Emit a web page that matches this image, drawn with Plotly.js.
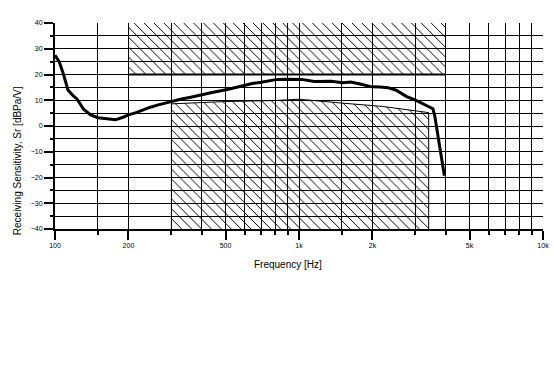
<!DOCTYPE html>
<html>
<head>
<meta charset="utf-8">
<script src="https://cdn.plot.ly/plotly-3.0.1.min.js"></script>
<style>html,body{margin:0;padding:0;background:#fff;}#chart{width:554px;height:384px;}</style>
</head>
<body>
<div id="chart"></div>
<script>
// Measured receiving sensitivity curve
const freqHz = [100,104,108,113,118,123,131,140,150,160,170,177,190,200,215,230,246,265,280,302,330,360,395,440,508,550,595,650,700,742,815,900,1025,1155,1250,1354,1511,1632,1800,1981,2150,2313,2502,2750,2973,3268,3539,3600,3628,3719,3850,3943];
const sensitivityDb = [27.5,25,20.5,14,12,10.5,6.5,4.3,3.2,2.9,2.8,2.4,3.4,4.3,5.2,6.3,7.3,8.2,8.8,9.7,10.5,11.2,11.9,13,14.2,15,15.8,16.6,17,17.5,18.1,18.2,18.1,17.3,17.4,17.4,16.8,17.1,16.2,15.2,15.1,14.9,13.9,11.5,10.2,8.3,6.7,4,2.1,-5.7,-13,-19.3];

// Upper limit mask (hatched above the 20 dB line)
const upperMaskFreq = [200, 4000];
const upperMaskLevel = [20, 20];
const axisTop = 40;
const axisBottom = -40;

// Lower limit mask (hatched below its upper boundary)
const lowerMaskFreq = [300, 500, 800, 1000, 1150, 1500, 2200, 3000, 3400];
const lowerMaskLevel = [8.6, 9.5, 9.9, 10.4, 9.8, 8.9, 7.6, 6.0, 5.2];

// Axis ticks
const xMajorTicks = [100, 200, 500, 1000, 2000, 5000, 10000];
const xMajorText = ["100", "200", "500", "1k", "2k", "5k", "10k"];
const xMinorTicks = [150, 300, 400, 600, 700, 800, 900, 1500, 3000, 4000, 6000, 7000, 8000, 9000];

// Titles
const xTitle = 'Frequency [Hz]';
const yTitle = 'Receiving Sensitivity, Sr [dBPa/V]';

const pattern = {shape: '\\', fgcolor: '#000', size: 7, solidity: 0.14, fillmode: 'replace'};

const upperX = [upperMaskFreq[0], upperMaskFreq[1], upperMaskFreq[1], upperMaskFreq[0]];
const upperY = [upperMaskLevel[0], upperMaskLevel[1], axisTop, axisTop];

const lowerX = [lowerMaskFreq[0]].concat(lowerMaskFreq, [lowerMaskFreq[lowerMaskFreq.length - 1]]);
const lowerY = [axisBottom].concat(lowerMaskLevel, [axisBottom]);

const traces = [
  {x: upperX, y: upperY, type: 'scatter', mode: 'lines', fill: 'toself',
   line: {width: 0, color: 'rgba(0,0,0,0)'}, fillpattern: pattern, hoverinfo: 'skip', showlegend: false},
  {x: upperMaskFreq, y: upperMaskLevel, type: 'scatter', mode: 'lines',
   line: {width: 2, color: '#000'}, showlegend: false},
  {x: lowerX, y: lowerY, type: 'scatter', mode: 'lines', fill: 'toself',
   line: {width: 1, color: '#000'}, fillpattern: pattern, hoverinfo: 'skip', showlegend: false},
  {x: freqHz, y: sensitivityDb, type: 'scatter', mode: 'lines',
   line: {width: 3, color: '#000'}, showlegend: false}
];

const fontFam = 'Liberation Sans, Arial, sans-serif';

const layout = {
  width: 554, height: 384,
  margin: {l: 55, r: 11, t: 23, b: 155},
  paper_bgcolor: '#fff', plot_bgcolor: '#fff',
  showlegend: false,
  font: {family: fontFam, color: '#000'},
  xaxis: {
    type: 'log', range: [2, 4],
    tickmode: 'array', tickvals: xMajorTicks, ticktext: xMajorText,
    ticks: 'outside', ticklen: 9, tickwidth: 2, tickcolor: '#000',
    tickfont: {size: 7, family: fontFam},
    showgrid: true, gridcolor: '#000', gridwidth: 1,
    showline: true, linecolor: '#000', linewidth: 2,
    zeroline: false,
    minor: {tickmode: 'array', tickvals: xMinorTicks, ticks: 'outside', ticklen: 4, tickwidth: 2, tickcolor: '#000',
            showgrid: true, gridcolor: '#000', gridwidth: 1}
  },
  yaxis: {
    range: [-40, 40],
    tickmode: 'linear', tick0: -40, dtick: 10,
    ticks: 'outside', ticklen: 9, tickwidth: 2, tickcolor: '#000',
    tickfont: {size: 7, family: fontFam},
    showgrid: true, gridcolor: '#000', gridwidth: 1,
    showline: true, linecolor: '#000', linewidth: 2,
    zeroline: false,
    minor: {tickmode: 'linear', dtick: 5, tick0: -35, ticks: 'outside', ticklen: 3, tickwidth: 2, tickcolor: '#000',
            showgrid: true, gridcolor: '#000', gridwidth: 1}
  },
  annotations: [
    {text: xTitle, xref: 'paper', yref: 'paper', x: 0.4775, y: -0.17, xanchor: 'center', yanchor: 'middle',
     showarrow: false, font: {size: 10, family: fontFam, color: '#000'}},
    {text: yTitle, xref: 'paper', yref: 'paper', x: -0.0775, y: 0.33, xanchor: 'center', yanchor: 'middle',
     textangle: -90, showarrow: false, font: {size: 10, family: fontFam, color: '#000'}}
  ]
};

Plotly.newPlot('chart', traces, layout, {displayModeBar: false, staticPlot: true});
</script>
</body>
</html>
